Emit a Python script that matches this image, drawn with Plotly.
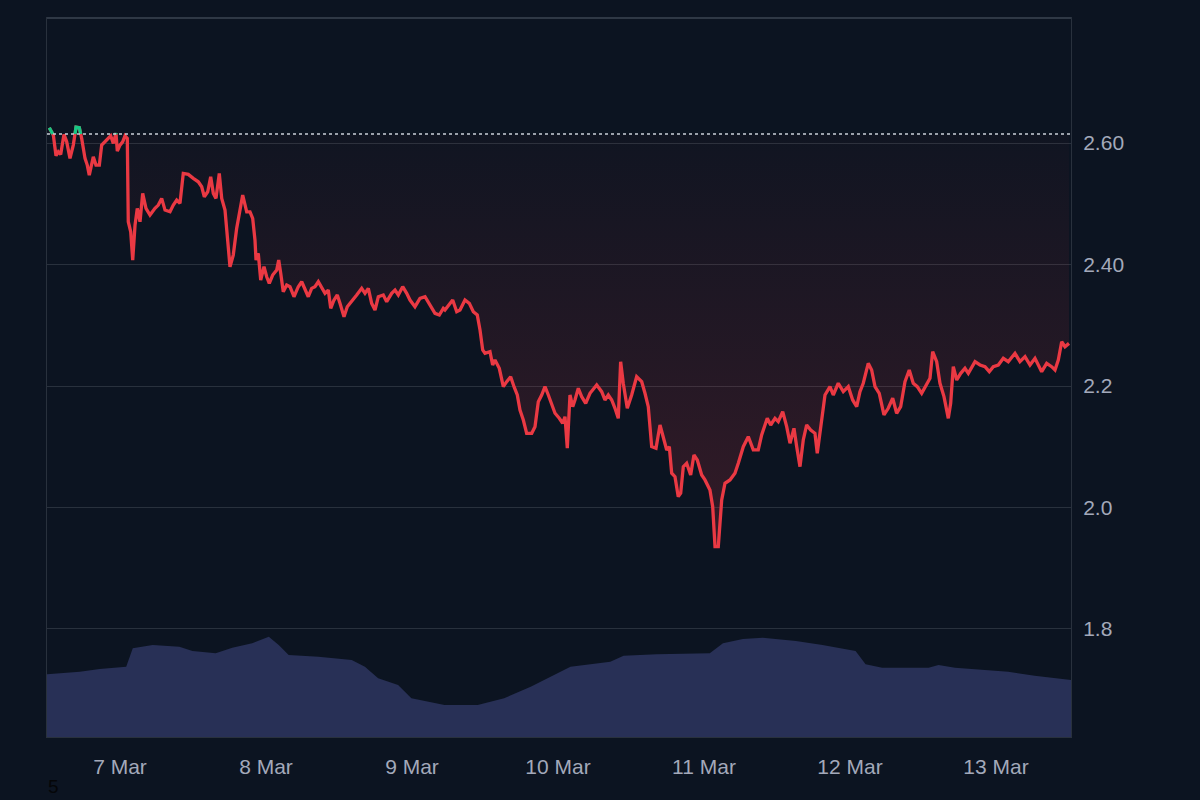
import numpy as np
import pandas as pd
import plotly.graph_objects as go

# ---------------- data ----------------
START = pd.Timestamp("2025-03-06 12:00")
END_HOURS = 168.33
BASELINE = 2.615  # opening price of the period

price_hours = [
    0.38, 1.04, 1.48, 1.86, 2.25, 2.79, 3.24, 3.78, 4.32, 4.77, 5.31, 5.70, 6.25, 6.62, 6.95, 7.35,
    7.61, 8.05, 8.60, 8.99, 9.53, 10.08, 10.47, 10.90, 11.34, 11.56, 12.00, 12.44, 12.82, 13.20,
    13.36, 13.76, 14.09, 14.47, 14.84, 15.29, 15.73, 16.27, 16.93, 17.75, 18.30, 18.85, 19.40,
    20.22, 20.76, 21.32, 21.86, 22.40, 23.23, 24.05, 24.87, 25.43, 25.86, 26.42, 26.91, 27.34,
    27.78, 28.32, 28.72, 29.26, 29.80, 30.08, 30.62, 31.18, 32.17, 32.83, 33.37,
    33.81, 34.19, 34.36, 34.73, 35.13, 35.67, 36.11, 36.54, 37.10, 37.76, 38.09, 38.42, 38.84,
    39.40, 39.94, 40.60, 41.31, 41.87, 42.41, 42.95, 43.51, 44.05, 44.60, 45.15, 45.70, 46.24,
    46.64, 47.18, 47.72, 48.16, 48.82, 49.36, 50.09, 50.91, 51.73, 52.27, 52.82, 53.37, 53.92,
    54.46, 55.28, 55.84, 56.66, 57.21, 57.75, 58.47, 59.13, 59.67, 60.49, 61.31, 62.14, 62.96,
    63.78, 64.49, 65.14,
    65.42, 66.25, 66.69, 67.35, 67.89, 68.71, 69.42, 70.08, 70.73, 71.18, 71.62, 72.00, 72.82,
    73.26, 73.64, 74.35, 75.01, 75.57, 76.22, 76.77, 77.31, 77.75, 78.30, 78.85, 79.68, 80.22,
    80.76, 81.32, 81.86, 82.41, 82.96, 83.51, 84.21, 84.77, 85.15, 85.53, 85.97, 86.42, 86.79,
    87.34, 87.89, 88.55, 89.26, 90.36, 91.18, 91.72, 92.27, 92.83, 93.37, 93.91, 94.30, 94.73,
    95.39, 96.11, 96.93, 97.76, 98.30, 98.84,
    99.40, 100.11, 100.77, 101.42, 101.87, 102.30, 102.69, 103.23, 103.77, 104.17, 104.60,
    105.15, 105.81, 106.35, 106.90, 107.62, 108.16, 108.98, 109.43, 109.81, 110.35, 110.91,
    111.45, 112.27, 113.09, 113.64, 114.46, 115.28, 116.10, 116.92, 117.48, 118.40, 118.96,
    119.67, 120.21, 120.94, 121.59, 122.14, 122.79, 123.24, 123.78, 124.32, 124.88, 125.54,
    126.24, 126.62, 127.35, 127.89, 128.71, 129.25, 130.07, 130.90, 131.72,
    132.44, 133.10, 133.64, 134.18, 135.00, 135.56, 136.11, 136.81, 137.58, 138.29, 139.02,
    139.67, 140.33, 141.04, 141.74, 142.40, 143.06, 143.78, 144.61, 145.15, 145.59, 146.25,
    146.79, 147.45, 148.16, 148.55, 148.98, 149.54, 150.20, 150.90, 151.45, 152.55, 153.37,
    154.19, 154.90, 155.56, 156.38, 157.20, 158.02, 159.12, 159.94, 160.77, 161.59, 162.41,
    163.51, 164.33, 165.15, 165.70, 166.24, 166.80, 167.34, 168.00,
]

price_values = [
    2.6252, 2.6132, 2.5791, 2.5857, 2.5814, 2.6143, 2.6021, 2.5748, 2.5967, 2.6262, 2.6252,
    2.6077, 2.5748, 2.5638, 2.5473, 2.5692, 2.5774, 2.5638, 2.5638, 2.5967, 2.6021, 2.6077,
    2.6120, 2.5995, 2.6164, 2.5868, 2.5967, 2.6021, 2.6120, 2.6077,
    2.4705, 2.4540, 2.4074, 2.4650, 2.4925, 2.4705, 2.5172, 2.4925, 2.4815, 2.4925, 2.4979,
    2.5090, 2.4897, 2.4869, 2.4979, 2.5062, 2.5007, 2.5501, 2.5485, 2.5419, 2.5363, 2.5281,
    2.5116, 2.5198, 2.5445, 2.5172, 2.5090, 2.5501, 2.5090, 2.4897, 2.4211, 2.3964, 2.4156,
    2.4596, 2.5144, 2.4869, 2.4869,
    2.4761, 2.4403, 2.4074, 2.4184, 2.3745, 2.3965, 2.3799, 2.3691, 2.3827, 2.3910, 2.4074,
    2.3855, 2.3552, 2.3663, 2.3635, 2.3470, 2.3635, 2.3717, 2.3580, 2.3470, 2.3608, 2.3635,
    2.3717, 2.3608, 2.3526, 2.3580, 2.3279, 2.3416, 2.3498, 2.3361, 2.3141, 2.3306, 2.3388,
    2.3498, 2.3608, 2.3526, 2.3608, 2.3361, 2.3251, 2.3470, 2.3498, 2.3388, 2.3526, 2.3580,
    2.3498, 2.3635, 2.3526, 2.3416, 2.3306, 2.3444, 2.3470, 2.3333, 2.3197, 2.3169, 2.3279,
    2.3251, 2.3361, 2.3416, 2.3223, 2.3251, 2.3416, 2.3361, 2.3223, 2.3169, 2.2922, 2.2593,
    2.2538, 2.2565, 2.2346, 2.2428, 2.2291, 2.1989, 2.2071, 2.2153, 2.1989, 2.1852, 2.1605,
    2.1440, 2.1221, 2.1221, 2.1330, 2.1742, 2.1852, 2.1989, 2.1852, 2.1715, 2.1551, 2.1468,
    2.1386, 2.1495, 2.0975, 2.1852, 2.1659, 2.1770, 2.1962, 2.1824, 2.1715, 2.1880, 2.2017,
    2.1907, 2.1770, 2.1852, 2.1770, 2.1633, 2.1468, 2.2400, 2.2045, 2.1633, 2.1852, 2.2153,
    2.2071, 2.1880, 2.1659,
    2.1001, 2.0975, 2.1358, 2.1111, 2.0947, 2.1001, 2.0563, 2.0507, 2.0178, 2.0234, 2.0672,
    2.0727, 2.0535, 2.0864, 2.0782, 2.0535, 2.0453, 2.0288, 2.0013, 1.9355, 1.9355, 2.0124,
    2.0398, 2.0453, 2.0563, 2.0727, 2.1001, 2.1166, 2.0947, 2.0947, 2.1194, 2.1468, 2.1358,
    2.1468, 2.1413, 2.1577, 2.1330, 2.1057, 2.1303, 2.1001, 2.0672, 2.1111, 2.1358, 2.1276,
    2.1221, 2.0892, 2.1468, 2.1852, 2.1989, 2.1852, 2.2045, 2.1907, 2.1989,
    2.1770, 2.1659, 2.1907, 2.2045, 2.2374, 2.2264, 2.1989, 2.1880, 2.1523, 2.1633, 2.1798,
    2.1551, 2.1659, 2.2071, 2.2264, 2.2045, 2.1989, 2.1880, 2.2017, 2.2127, 2.2565, 2.2400,
    2.2045, 2.1825, 2.1468, 2.1715, 2.2318, 2.2099, 2.2209, 2.2291, 2.2209, 2.2400, 2.2346,
    2.2318, 2.2236, 2.2318, 2.2346, 2.2456, 2.2400, 2.2538, 2.2400, 2.2483, 2.2346, 2.2456,
    2.2236, 2.2374, 2.2318, 2.2264, 2.2428, 2.2729, 2.2647, 2.2702,
]

volume_hours = [
    0.0, 5.39, 8.66, 13.02, 14.10, 17.38, 21.75, 23.92, 27.73, 30.46, 33.73, 36.46, 38.09,
    39.73, 44.63, 50.09, 52.26, 54.44, 57.71, 59.90, 65.34, 70.80, 75.15, 79.51, 82.78,
    86.05, 92.60, 94.78, 100.22, 108.95, 111.12, 114.39, 117.66, 123.12, 127.48, 132.92,
    134.56, 137.29, 144.92, 146.55, 149.27, 158.00, 162.36, 167.80, 168.33,
]
volume_bn = [
    6.27, 6.53, 6.80, 7.03, 8.87, 9.20, 9.03, 8.60, 8.37, 8.93, 9.37, 10.03, 9.20, 8.20,
    8.03, 7.70, 7.03, 5.87, 5.20, 3.87, 3.20, 3.20, 3.87, 5.03, 6.03, 7.03, 7.53, 8.13,
    8.27, 8.37, 9.37, 9.80, 9.93, 9.60, 9.20, 8.60, 7.27, 6.93, 6.93, 7.20, 6.93, 6.53,
    6.13, 5.70, 5.70,
]

tick_vals = [1.8, 2.0, 2.2, 2.4, 2.6]
tick_text = ["1.8", "2.0", "2.2", "2.40", "2.60"]

# ---------------- styles ----------------
BG = "#0c1421"
GRID = "#29313d"
RED = "#ea3943"
GREEN = "#16c784"
VOL = "#283056"
TXT = "#a3a9ba"
FONT = "Liberation Sans, Arial, sans-serif"

t_price = START + pd.to_timedelta(np.array(price_hours), unit="h")
t_vol = START + pd.to_timedelta(np.array(volume_hours), unit="h")
p = np.array(price_values)

# green segments: portions of the line above the baseline (with interpolated crossings)
gx, gy = [], []
for i in range(len(p)):
    if i > 0:
        p0, p1 = p[i - 1], p[i]
        if (p0 - BASELINE) * (p1 - BASELINE) < 0:
            f = (BASELINE - p0) / (p1 - p0)
            tc = t_price[i - 1] + (t_price[i] - t_price[i - 1]) * f
            gx.append(tc)
            gy.append(BASELINE)
            if p1 < BASELINE:
                gx.append(None)
                gy.append(None)
    if p[i] >= BASELINE:
        gx.append(t_price[i])
        gy.append(p[i])

fig = go.Figure()

fig.add_trace(go.Scatter(
    x=t_vol, y=volume_bn, yaxis="y2", mode="lines",
    line=dict(width=0, color=VOL), fill="tozeroy", fillcolor=VOL,
    hoverinfo="skip", showlegend=False,
))

fig.add_trace(go.Scatter(
    x=t_price, y=[BASELINE] * len(p), mode="lines",
    line=dict(width=0), hoverinfo="skip", showlegend=False,
))

fig.add_trace(go.Scatter(
    x=t_price, y=p, mode="lines", fill="tonexty",
    fillgradient=dict(
        type="vertical",
        colorscale=[[0, "rgba(234,57,67,0.18)"], [1, "rgba(234,57,67,0.02)"]],
        start=1.93, stop=BASELINE,
    ),
    line=dict(color=RED, width=3.3), showlegend=False,
))

fig.add_trace(go.Scatter(
    x=gx, y=gy, mode="lines", line=dict(color=GREEN, width=3.3),
    connectgaps=False, showlegend=False,
))

fig.add_shape(type="line", xref="paper", yref="y", x0=0, x1=1,
              y0=BASELINE, y1=BASELINE,
              line=dict(color="#c9ced8", width=1.5, dash="dot"))

# slightly heavier top frame edge
fig.add_shape(type="line", xref="paper", yref="paper", x0=0, x1=1, y0=1, y1=1,
              line=dict(color="#2f3845", width=2))

fig.add_annotation(text="5", xref="paper", yref="paper", x=0.006, y=-0.0695,
                   showarrow=False, font=dict(color="#050608", size=19, family=FONT),
                   xanchor="center", yanchor="middle")

fig.update_layout(
    width=1200, height=800,
    paper_bgcolor=BG, plot_bgcolor=BG,
    margin=dict(l=47, r=129, t=18, b=63),
    font=dict(family=FONT, color=TXT, size=21),
    xaxis=dict(
        type="date",
        range=[START, START + pd.Timedelta(hours=END_HOURS)],
        tick0="2025-03-07", dtick=86400000, tickformat="%-d %b",
        showgrid=False, zeroline=False,
        showline=True, mirror=True, linecolor=GRID, linewidth=1,
        ticks="", ticklabelstandoff=11,
        tickfont=dict(color=TXT, size=21),
    ),
    yaxis=dict(
        side="right", range=[1.622, 2.806],
        tickvals=tick_vals, ticktext=tick_text,
        showgrid=True, gridcolor=GRID, gridwidth=1, zeroline=False,
        showline=True, mirror=True, linecolor=GRID, linewidth=1,
        ticks="", ticklabelstandoff=7,
        tickfont=dict(color=TXT, size=21),
    ),
    yaxis2=dict(
        overlaying="y", range=[0, 71.9], showgrid=False, showticklabels=False,
        zeroline=False, showline=False,
    ),
)

fig.write_html("out.html")
